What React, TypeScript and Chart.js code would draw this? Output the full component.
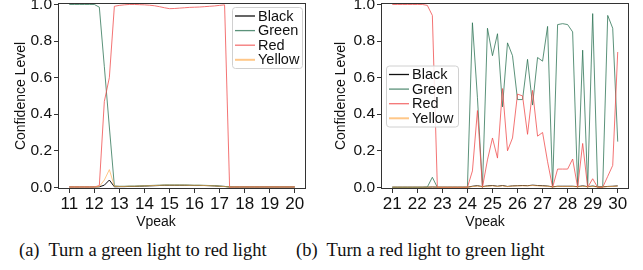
import React, { useEffect, useRef } from "react";
import { Chart, registerables } from "chart.js";

Chart.register(...registerables);

const seriesNames = ["Black", "Green", "Red", "Yellow"];
const seriesColors = ["#111111", "rgba(45,115,85,0.78)", "rgba(240,80,80,0.8)", "rgba(255,175,85,0.7)"];

const xLabel = "Vpeak";
const yLabel = "Confidence Level";
const yTicks = [0, 0.2, 0.4, 0.6, 0.8, 1.0];
const xTicksA = [11, 12, 13, 14, 15, 16, 17, 18, 19, 20];
const xTicksB = [21, 22, 23, 24, 25, 26, 27, 28, 29, 30];

const vpeakA = [
  11.0, 11.2, 11.4, 11.6, 11.8, 12.0, 12.2, 12.4, 12.6, 12.8,
  13.0, 13.2, 13.4, 13.6, 13.8, 14.0, 14.2, 14.4, 14.6, 14.8,
  15.0, 15.2, 15.4, 15.6, 15.8, 16.0, 16.2, 16.4, 16.6, 16.8,
  17.0, 17.2, 17.4, 17.6, 17.8, 18.0, 18.2, 18.4, 18.6, 18.8,
  19.0, 19.2, 19.4, 19.6, 19.8, 20.0,
];
const blackA = [
  0.002, 0.002, 0.002, 0.002, 0.002, 0.002, 0.003, 0.012, 0.04, 0.003,
  0.004, 0.004, 0.005, 0.005, 0.006, 0.007, 0.008, 0.009, 0.01, 0.011,
  0.011, 0.011, 0.011, 0.011, 0.011, 0.01, 0.01, 0.01, 0.009, 0.008,
  0.006, 0.005, 0.002, 0.002, 0.002, 0.002, 0.002, 0.002, 0.002, 0.002,
  0.002, 0.002, 0.002, 0.002, 0.002, 0.002,
];
const greenA = [
  1.0, 1.0, 1.0, 1.0, 1.0, 1.0, 0.985, 0.66, 0.33, 0.008,
  0.006, 0.006, 0.007, 0.007, 0.008, 0.009, 0.01, 0.011, 0.012, 0.013,
  0.013, 0.013, 0.013, 0.013, 0.012, 0.012, 0.012, 0.011, 0.01, 0.009,
  0.007, 0.005, 0.002, 0.002, 0.002, 0.002, 0.002, 0.002, 0.002, 0.002,
  0.002, 0.002, 0.002, 0.002, 0.002, 0.002,
];
const redA = [
  0.002, 0.002, 0.002, 0.002, 0.002, 0.002, 0.01, 0.47, 0.6, 0.99,
  0.995, 0.998, 1.0, 1.0, 0.999, 0.998, 0.996, 0.993, 0.988, 0.982,
  0.977, 0.978, 0.98, 0.982, 0.984, 0.985, 0.986, 0.988, 0.99, 0.992,
  0.995, 0.998, 0.0, 0.002, 0.002, 0.002, 0.002, 0.002, 0.002, 0.002,
  0.002, 0.002, 0.002, 0.002, 0.002, 0.002,
];
const yellowA = [
  0.002, 0.002, 0.002, 0.002, 0.002, 0.002, 0.005, 0.04, 0.097, 0.006,
  0.005, 0.005, 0.006, 0.006, 0.007, 0.008, 0.009, 0.01, 0.011, 0.012,
  0.012, 0.012, 0.012, 0.012, 0.011, 0.011, 0.011, 0.01, 0.009, 0.008,
  0.006, 0.004, 0.002, 0.002, 0.002, 0.002, 0.002, 0.002, 0.002, 0.002,
  0.002, 0.002, 0.002, 0.002, 0.002, 0.002,
];

const vpeakB = [
  21.0, 21.2, 21.4, 21.6, 21.8, 22.0, 22.2, 22.4, 22.6, 22.8,
  23.0, 23.2, 23.4, 23.6, 23.8, 24.0, 24.2, 24.4, 24.6, 24.8,
  25.0, 25.2, 25.4, 25.6, 25.8, 26.0, 26.2, 26.4, 26.6, 26.8,
  27.0, 27.2, 27.4, 27.6, 27.8, 28.0, 28.2, 28.4, 28.6, 28.8,
  29.0, 29.2, 29.4, 29.6, 29.8, 30.0,
];
const blackB = [
  0.001, 0.001, 0.001, 0.001, 0.001, 0.001, 0.001, 0.001, 0.002, 0.001,
  0.001, 0.001, 0.001, 0.001, 0.001, 0.001, 0.006, 0.009, 0.004, 0.008,
  0.01, 0.006, 0.01, 0.005, 0.008, 0.009, 0.01, 0.009, 0.012, 0.01,
  0.009, 0.007, 0.003, 0.006, 0.006, 0.006, 0.006, 0.004, 0.008, 0.004,
  0.007, 0.003, 0.003, 0.005, 0.006, 0.008,
];
const greenB = [
  0.0, 0.0, 0.0, 0.0, 0.0, 0.0, 0.0, 0.002, 0.055, 0.0,
  0.0, 0.0, 0.0, 0.0, 0.0, 0.0, 0.9, 0.49, 0.0, 0.87,
  0.72, 0.84, 0.44, 0.79, 0.72, 0.48, 0.48, 0.7, 0.45, 0.71,
  0.69, 0.88, 0.0, 0.89, 0.895, 0.89, 0.85, 0.0, 0.75, 0.0,
  0.95, 0.0, 0.0, 0.94, 0.87, 0.25,
];
const redB = [
  1.0, 1.0, 1.0, 1.0, 1.0, 1.0, 1.0, 0.995, 0.94, 0.0,
  0.0, 0.0, 0.0, 0.0, 0.0, 0.0, 0.09, 0.42, 0.0, 0.15,
  0.27, 0.16, 0.54, 0.2, 0.27, 0.51, 0.5, 0.29, 0.53, 0.28,
  0.3, 0.14, 0.0, 0.1, 0.1, 0.1, 0.155, 0.0, 0.24, 0.0,
  0.047, 0.0, 0.0, 0.06, 0.12, 0.74,
];
const yellowB = [
  0.001, 0.001, 0.001, 0.001, 0.001, 0.001, 0.001, 0.001, 0.002, 0.001,
  0.001, 0.001, 0.001, 0.001, 0.001, 0.001, 0.004, 0.007, 0.003, 0.006,
  0.008, 0.005, 0.008, 0.004, 0.007, 0.008, 0.008, 0.008, 0.01, 0.008,
  0.007, 0.006, 0.002, 0.005, 0.005, 0.005, 0.005, 0.003, 0.006, 0.003,
  0.005, 0.002, 0.002, 0.004, 0.005, 0.007,
];

const FONT = "'Liberation Sans', Arial, sans-serif";

const frameLegendPlugin = {
  id: "frameLegend",
  afterDatasetsDraw(chart: any, _args: any, opts: any) {
    const { ctx, chartArea: a } = chart;
    ctx.save();
    ctx.strokeStyle = "#333";
    ctx.lineWidth = 1;
    ctx.strokeRect(a.left + 0.5, a.top + 0.5, a.right - a.left - 1, a.bottom - a.top - 1);

    const W = opts.w;
    const H = 61;
    const x0 = opts.pos === "ur" ? a.right - 4 - W : a.left + 5;
    const y0 = opts.pos === "ur" ? a.top + 4 : (a.top + a.bottom) / 2 - H / 2;
    ctx.beginPath();
    if (ctx.roundRect) ctx.roundRect(x0 + 0.5, y0 + 0.5, W, H, 3);
    else ctx.rect(x0 + 0.5, y0 + 0.5, W, H);
    ctx.fillStyle = "rgba(255,255,255,0.85)";
    ctx.fill();
    ctx.strokeStyle = "#d0d0d0";
    ctx.stroke();
    ctx.font = `14.5px ${FONT}`;
    ctx.textBaseline = "middle";
    ctx.textAlign = "left";
    seriesNames.forEach((name, i) => {
      const y = y0 + 9 + i * 14.6;
      ctx.beginPath();
      ctx.moveTo(x0 + 3, y);
      ctx.lineTo(x0 + 23, y);
      ctx.strokeStyle = seriesColors[i];
      ctx.lineWidth = i === 3 ? 2 : 1.3;
      ctx.stroke();
      ctx.fillStyle = "#111";
      ctx.fillText(name, x0 + 26, y + 0.5);
    });

    ctx.font = `14px ${FONT}`;
    ctx.textAlign = "center";
    ctx.textBaseline = "middle";
    ctx.fillStyle = "#111";
    ctx.fillText(xLabel, (a.left + a.right) / 2 + opts.xlabelDx, a.bottom + 33);
    ctx.restore();
  },
};

type PanelProps = {
  vpeak: number[];
  series: number[][];
  xTicks: number[];
  padLeft: number;
  padRight: number;
  yWidth: number;
  legendPos: string;
  legendW: number;
  xlabelDx: number;
  width: number;
};

function Panel(p: PanelProps) {
  const ref = useRef<HTMLCanvasElement>(null);
  useEffect(() => {
    if (!ref.current) return;
    const H = 232;
    const chart = new Chart(ref.current, {
      type: "line",
      data: {
        datasets: p.series.map((vals, i) => ({
          label: seriesNames[i],
          data: p.vpeak.map((x, j) => ({ x, y: vals[j] })),
          borderColor: seriesColors[i],
          borderWidth: 1,
          pointRadius: 0,
          tension: 0,
          fill: false,
          order: 4 - i,
        })),
      },
      options: {
        responsive: false,
        animation: false,
        events: [],
        layout: { padding: { left: p.padLeft, right: p.padRight, top: 3, bottom: 0 } },
        plugins: {
          legend: { display: false },
          tooltip: { enabled: false },
          frameLegend: { pos: p.legendPos, w: p.legendW, xlabelDx: p.xlabelDx },
        } as any,
        scales: {
          x: {
            type: "linear",
            min: p.xTicks[0] - 0.45,
            max: p.xTicks[p.xTicks.length - 1] + 0.45,
            afterBuildTicks: (s: any) => {
              s.ticks = p.xTicks.map((v) => ({ value: v }));
            },
            afterFit: (s: any) => {
              s.height = H - 189;
              s.paddingLeft = 0;
              s.paddingRight = 0;
            },
            ticks: {
              color: "#111",
              font: { family: FONT, size: 17 },
              padding: 1,
              maxRotation: 0,
              autoSkip: false,
              callback: (v: any) => String(v),
            },
            grid: { display: true, drawOnChartArea: false, drawTicks: true, tickLength: 4, color: "#333" },
            border: { display: false },
            title: { display: false },
          },
          y: {
            type: "linear",
            min: -0.009,
            max: 1.008,
            afterBuildTicks: (s: any) => {
              s.ticks = yTicks.map((v) => ({ value: v }));
            },
            afterFit: (s: any) => {
              s.width = p.yWidth;
              s.paddingTop = 0;
              s.paddingBottom = 0;
            },
            ticks: {
              color: "#111",
              font: { family: FONT, size: 15.5 },
              padding: 2,
              callback: (v: any) => Number(v).toFixed(1),
            },
            grid: { display: true, drawOnChartArea: false, drawTicks: true, tickLength: 4, color: "#333" },
            border: { display: false },
            title: { display: true, text: yLabel, color: "#111", font: { family: FONT, size: 14 }, padding: { top: 4, bottom: 2 } },
          },
        },
      },
      plugins: [frameLegendPlugin],
    } as any);
    return () => chart.destroy();
  }, []);
  return <canvas ref={ref} width={p.width} height={232} style={{ width: p.width, height: 232, display: "block" }} />;
}

const captionStyle: React.CSSProperties = {
  position: "absolute",
  top: 239,
  fontFamily: "'Liberation Serif', 'Times New Roman', serif",
  fontSize: 18.5,
  color: "#111",
  whiteSpace: "pre",
  lineHeight: "23px",
};

export default function App() {
  return (
    <div style={{ position: "absolute", left: 0, top: 0, width: 643, height: 270, background: "#fff", overflow: "hidden" }}>
      <div style={{ position: "absolute", left: 0, top: 0 }}>
        <Panel
          vpeak={vpeakA}
          series={[blackA, greenA, redA, yellowA]}
          xTicks={xTicksA}
          padLeft={9}
          padRight={15}
          yWidth={49}
          legendPos="ur"
          legendW={70}
          xlabelDx={-26}
          width={321}
        />
      </div>
      <div style={{ position: "absolute", left: 321, top: 0 }}>
        <Panel
          vpeak={vpeakB}
          series={[blackB, greenB, redB, yellowB]}
          xTicks={xTicksB}
          padLeft={8}
          padRight={14}
          yWidth={52}
          legendPos="cl"
          legendW={72}
          xlabelDx={-20}
          width={322}
        />
      </div>
      <div style={{ ...captionStyle, left: 19 }}>(a)  Turn a green light to red light</div>
      <div style={{ ...captionStyle, left: 296 }}>(b)  Turn a red light to green light</div>
    </div>
  );
}
